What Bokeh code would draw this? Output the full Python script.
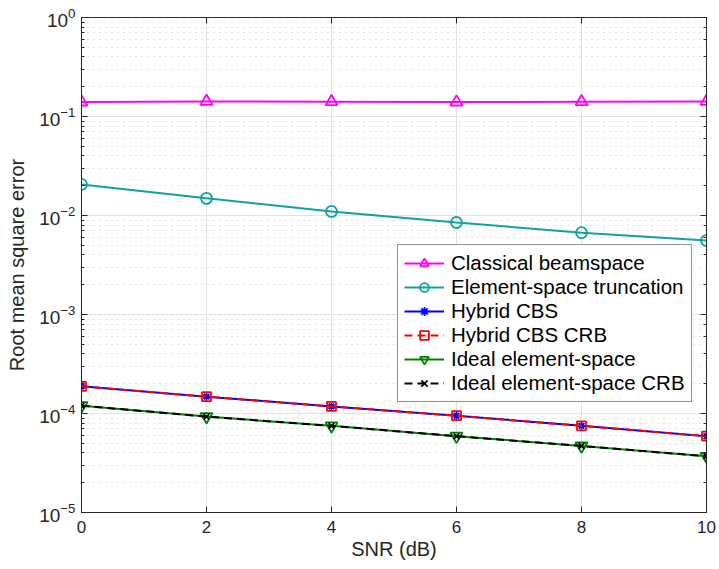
from bokeh.plotting import figure
from bokeh.models import LogAxis, LinearAxis, Legend, LegendItem, FixedTicker, Range1d
from bokeh.embed import file_html
from bokeh.resources import INLINE

snr = [0, 2, 4, 6, 8, 10]
classical = [0.140, 0.142, 0.141, 0.140, 0.141, 0.142]
truncation = [0.0206, 0.0149, 0.0110, 0.0085, 0.0067, 0.0056]
hybrid = [1.88e-4, 1.48e-4, 1.18e-4, 9.5e-5, 7.5e-5, 5.9e-5]
hybrid_crb = [1.88e-4, 1.48e-4, 1.18e-4, 9.5e-5, 7.5e-5, 5.9e-5]
ideal = [1.20e-4, 9.3e-5, 7.5e-5, 5.9e-5, 4.7e-5, 3.7e-5]
ideal_crb = [1.20e-4, 9.3e-5, 7.5e-5, 5.9e-5, 4.7e-5, 3.7e-5]

FONT = "Liberation Sans"
AX = "#262626"

p = figure(frame_width=625, frame_height=495, y_axis_type="log",
           x_range=Range1d(0, 10), y_range=Range1d(1e-5, 1),
           output_backend="svg", toolbar_location=None,
           min_border_left=81, min_border_right=13, min_border_top=17, min_border_bottom=57)

p.outline_line_color = AX
p.outline_line_width = 1
p.background_fill_color = "white"

p.xaxis.ticker = FixedTicker(ticks=[0, 2, 4, 6, 8, 10])
p.xaxis.axis_label = "SNR (dB)"
p.yaxis.axis_label = "Root mean square error"
for ax in [p.xaxis[0], p.yaxis[0]]:
    ax.axis_label_text_font = FONT
    ax.axis_label_text_font_size = "20px"
    ax.axis_label_text_font_style = "normal"
    ax.axis_label_text_color = AX
    ax.major_label_text_font = FONT
    ax.major_label_text_color = AX
    ax.axis_line_color = AX
    ax.major_tick_line_color = AX
    ax.minor_tick_line_color = AX
    ax.major_tick_in = 6
    ax.major_tick_out = 0
    ax.minor_tick_in = 3
    ax.minor_tick_out = 0
p.xaxis.major_label_text_font_size = "17px"
p.yaxis.major_label_text_font_size = "19px"
p.xaxis.minor_tick_line_color = None
p.xaxis.major_label_standoff = 8
p.xaxis.axis_label_standoff = 2
p.yaxis.major_label_standoff = 6
p.yaxis.axis_label_standoff = 8

p.xgrid.grid_line_color = "#e3e3e3"
p.ygrid.grid_line_color = "#e3e3e3"
p.ygrid.minor_grid_line_color = "#c4c4c4"
p.ygrid.minor_grid_line_dash = "1 5"

# mirrored box ticks
ra = LogAxis(major_label_text_font_size="1px", major_label_text_alpha=0, axis_line_color=AX,
             major_tick_line_color=AX, minor_tick_line_color=AX,
             major_tick_in=6, major_tick_out=0, minor_tick_in=3, minor_tick_out=0,
             major_label_standoff=0)
p.add_layout(ra, "right")
ta = LinearAxis(ticker=FixedTicker(ticks=[0, 2, 4, 6, 8, 10]), major_label_text_font_size="1px",
                major_label_text_alpha=0, major_label_standoff=0,
                axis_line_color=AX, major_tick_line_color=AX, minor_tick_line_color=None,
                major_tick_in=6, major_tick_out=0)
p.add_layout(ta, "above")

LW = 2
MS = 12
items = []

def series(name, y, color, marker, dash="solid", msize=MS, fill=None):
    l = p.line(snr, y, line_color=color, line_width=LW, line_dash=dash)
    s = p.scatter(snr, y, marker=marker, size=msize, line_color=color, line_width=1.8,
                  fill_color=fill)
    items.append(LegendItem(label=name, renderers=[l, s]))

series("Classical beamspace", classical, "#ff00ff", "triangle")
series("Element-space truncation", truncation, "#13a0a0", "circle", msize=11)
series("Hybrid CBS", hybrid, "#0000ff", "asterisk", msize=8)
series("Hybrid CBS CRB", hybrid_crb, "#ff0000", "square", dash="8 5", msize=9)
series("Ideal element-space", ideal, "#008000", "inverted_triangle")
series("Ideal element-space CRB", ideal_crb, "#000000", "x", dash="8 5", msize=8)

legend = Legend(items=items, location=(316, 110), margin=0, padding=6, spacing=0,
                label_text_font=FONT, label_text_font_size="20.5px", label_text_color="black",
                glyph_width=40, glyph_height=22, label_height=22, label_standoff=7,
                border_line_color=AX, border_line_width=1,
                background_fill_color="white", background_fill_alpha=1)
p.add_layout(legend, "center")

open("out.html", "w").write(file_html(p, INLINE))
